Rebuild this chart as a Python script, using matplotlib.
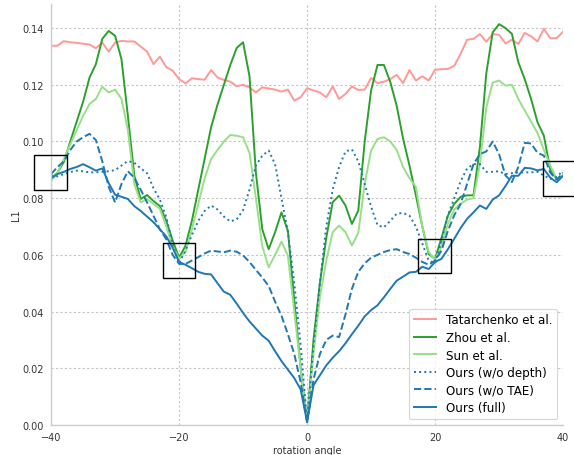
import matplotlib
matplotlib.use('Agg')
import matplotlib.pyplot as plt
from matplotlib.patches import Rectangle

angles = list(range(-40, 41))

tatarchenko = [0.1338, 0.1338, 0.1354, 0.1350, 0.1348, 0.1345, 0.1342, 0.1329, 0.1349, 0.1317,
               0.1349, 0.1355, 0.1353, 0.1353, 0.1335, 0.1317, 0.1273, 0.1299, 0.1262, 0.1250,
               0.1220, 0.1205, 0.1223, 0.1220, 0.1218, 0.1252, 0.1226, 0.1217, 0.1211, 0.1195,
               0.1200, 0.1191, 0.1173, 0.1191, 0.1187, 0.1183, 0.1176, 0.1183, 0.1144, 0.1156,
               0.1188,
               0.1180, 0.1173, 0.1156, 0.1194, 0.1150, 0.1168, 0.1194, 0.1182, 0.1183, 0.1224,
               0.1206, 0.1211, 0.1220, 0.1235, 0.1206, 0.1252, 0.1215, 0.1230, 0.1215, 0.1253,
               0.1255, 0.1256, 0.1267, 0.1310, 0.1359, 0.1362, 0.1379, 0.1352, 0.1379, 0.1376,
               0.1346, 0.1359, 0.1344, 0.1383, 0.1371, 0.1353, 0.1397, 0.1364, 0.1365, 0.1387]

zhou = [0.0868, 0.0890, 0.0928, 0.1000, 0.1070, 0.1140, 0.1225, 0.1273, 0.1362, 0.1390,
        0.1373, 0.1290, 0.1090, 0.0880, 0.0797, 0.0811, 0.0790, 0.0772, 0.0720, 0.0650,
        0.0590, 0.0632, 0.0720, 0.0830, 0.0940, 0.1050, 0.1130, 0.1200, 0.1270, 0.1330,
        0.1350, 0.1230, 0.0890, 0.0690, 0.0620, 0.0680, 0.0750, 0.0685, 0.0440, 0.0200,
        0.0010,
        0.0300, 0.0500, 0.0660, 0.0786, 0.0809, 0.0774, 0.0709, 0.0756, 0.1000, 0.1180,
        0.1270, 0.1270, 0.1210, 0.1126, 0.1010, 0.0915, 0.0810, 0.0700, 0.0603, 0.0586,
        0.0660, 0.0738, 0.0780, 0.0805, 0.0810, 0.0810, 0.0980, 0.1240, 0.1385, 0.1414,
        0.1400, 0.1380, 0.1280, 0.1220, 0.1150, 0.1068, 0.1020, 0.0900, 0.0868, 0.0880]

sun = [0.0861, 0.0890, 0.0938, 0.0990, 0.1040, 0.1090, 0.1132, 0.1150, 0.1193, 0.1173,
       0.1183, 0.1150, 0.1040, 0.0850, 0.0785, 0.0797, 0.0780, 0.0762, 0.0700, 0.0630,
       0.0586, 0.0610, 0.0690, 0.0780, 0.0870, 0.0938, 0.0970, 0.1000, 0.1023, 0.1020,
       0.1015, 0.0960, 0.0800, 0.0630, 0.0556, 0.0600, 0.0647, 0.0597, 0.0400, 0.0200,
       0.0010,
       0.0250, 0.0450, 0.0580, 0.0680, 0.0703, 0.0680, 0.0633, 0.0677, 0.0850, 0.0968,
       0.1009, 0.1015, 0.1000, 0.0970, 0.0910, 0.0870, 0.0840, 0.0700, 0.0610, 0.0583,
       0.0630, 0.0710, 0.0760, 0.0780, 0.0795, 0.0800, 0.0920, 0.1120, 0.1208, 0.1215,
       0.1197, 0.1200, 0.1150, 0.1110, 0.1070, 0.1030, 0.0970, 0.0915, 0.0868, 0.0880]

ours_no_depth = [0.0880, 0.0877, 0.0885, 0.0892, 0.0897, 0.0895, 0.0891, 0.0891, 0.0893, 0.0895,
                 0.0899, 0.0915, 0.0931, 0.0925, 0.0905, 0.0888, 0.0835, 0.0795, 0.0733, 0.0635,
                 0.0570, 0.0615, 0.0670, 0.0720, 0.0755, 0.0774, 0.0760, 0.0735, 0.0718, 0.0725,
                 0.0758, 0.0830, 0.0915, 0.0950, 0.0968, 0.0920, 0.0800, 0.0680, 0.0500, 0.0280,
                 0.0010,
                 0.0280, 0.0500, 0.0700, 0.0830, 0.0910, 0.0965, 0.0972, 0.0930, 0.0850, 0.0770,
                 0.0705, 0.0697, 0.0720, 0.0745, 0.0748, 0.0738, 0.0700, 0.0640, 0.0580, 0.0570,
                 0.0650, 0.0740, 0.0800, 0.0860, 0.0905, 0.0920, 0.0920, 0.0893, 0.0893, 0.0895,
                 0.0885, 0.0888, 0.0891, 0.0891, 0.0891, 0.0893, 0.0880, 0.0868, 0.0875, 0.0897]

ours_no_tae = [0.0885, 0.0910, 0.0930, 0.0970, 0.1000, 0.1015, 0.1027, 0.1005, 0.0930, 0.0840,
               0.0785, 0.0850, 0.0895, 0.0872, 0.0830, 0.0785, 0.0738, 0.0690, 0.0655, 0.0600,
               0.0568, 0.0568, 0.0580, 0.0592, 0.0605, 0.0615, 0.0612, 0.0609, 0.0615, 0.0611,
               0.0598, 0.0575, 0.0547, 0.0520, 0.0490, 0.0435, 0.0385, 0.0320, 0.0250, 0.0150,
               0.0010,
               0.0160, 0.0250, 0.0300, 0.0315, 0.0310, 0.0390, 0.0480, 0.0540, 0.0570, 0.0590,
               0.0600, 0.0610, 0.0617, 0.0620, 0.0610, 0.0603, 0.0590, 0.0575, 0.0565, 0.0580,
               0.0615, 0.0685, 0.0740, 0.0780, 0.0850, 0.0920, 0.0955, 0.0965, 0.1000, 0.0955,
               0.0880, 0.0857, 0.0910, 0.0995, 0.0993, 0.0960, 0.0950, 0.0890, 0.0865, 0.0890]

ours_full = [0.0870, 0.0885, 0.0893, 0.0903, 0.0910, 0.0920, 0.0909, 0.0897, 0.0905, 0.0853,
             0.0812, 0.0805, 0.0797, 0.0772, 0.0755, 0.0735, 0.0715, 0.0690, 0.0665, 0.0625,
             0.0575, 0.0565, 0.0553, 0.0540, 0.0533, 0.0531, 0.0500, 0.0470, 0.0459, 0.0428,
             0.0395, 0.0365, 0.0340, 0.0315, 0.0297, 0.0260, 0.0225, 0.0195, 0.0165, 0.0125,
             0.0010,
             0.0140, 0.0175, 0.0210, 0.0237, 0.0260, 0.0288, 0.0320, 0.0350, 0.0383, 0.0405,
             0.0422, 0.0450, 0.0480, 0.0509, 0.0523, 0.0538, 0.0540, 0.0558, 0.0550, 0.0575,
             0.0586, 0.0620, 0.0657, 0.0695, 0.0727, 0.0750, 0.0774, 0.0762, 0.0795, 0.0810,
             0.0843, 0.0879, 0.0879, 0.0907, 0.0905, 0.0898, 0.0903, 0.0872, 0.0856, 0.0879]

# zoom boxes: (x0, y0, width, height) in data units
boxes = [(-42.7, 0.0830, 5.2, 0.0123),
         (-22.5, 0.0518, 5.0, 0.0124),
         (17.4, 0.0536, 5.1, 0.0120),
         (36.8, 0.0809, 5.2, 0.0121)]

series = [
    ('Tatarchenko et al.', tatarchenko, '#ff9896', '-'),
    ('Zhou et al.', zhou, '#2ca02c', '-'),
    ('Sun et al.', sun, '#98df8a', '-'),
    ('Ours (w/o depth)', ours_no_depth, '#1f77b4', ':'),
    ('Ours (w/o TAE)', ours_no_tae, '#1f77b4', '--'),
    ('Ours (full)', ours_full, '#1f77b4', '-'),
]

fig = plt.figure(figsize=(5.74, 4.56), dpi=100)
ax = fig.add_axes([0.089, 0.066, 0.892, 0.923])

for label, vals, color, ls in series:
    ax.plot(angles, vals, color=color, linestyle=ls, linewidth=1.4, label=label)

for x0, y0, w, h in boxes:
    ax.add_patch(Rectangle((x0, y0), w, h, fill=False, edgecolor='black',
                           linewidth=1.0, clip_on=False, zorder=5))

ax.set_xlim(-40, 40)
ax.set_ylim(0, 0.1485)
ax.set_xticks([-40, -20, 0, 20, 40])
ax.set_yticks([0.0, 0.02, 0.04, 0.06, 0.08, 0.10, 0.12, 0.14])
ax.set_yticklabels(['%.2f' % v for v in ax.get_yticks()])
ax.tick_params(length=0, labelsize=7, colors='#333333', pad=5)
ax.grid(True, linestyle=(0, (2, 2)), color='#c4c4c4', linewidth=0.8)
ax.set_axisbelow(True)
for side in ['top', 'right']:
    ax.spines[side].set_visible(False)
for side in ['left', 'bottom']:
    ax.spines[side].set_color('#cccccc')
    ax.spines[side].set_linewidth(1.0)

ax.set_xlabel('rotation angle', fontsize=7, color='#333333', labelpad=2)
ax.set_ylabel('L1', fontsize=7, color='#333333')
ax.yaxis.set_label_coords(-0.058, 0.5)

leg = ax.legend(loc='lower right', fontsize=8.6, frameon=True, fancybox=True,
                handlelength=1.9, labelspacing=0.38)
leg.get_frame().set_edgecolor('#cccccc')
leg.get_frame().set_linewidth(0.8)

fig.savefig('out.png', dpi=100)
